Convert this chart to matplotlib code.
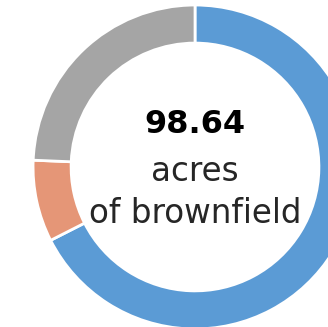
import matplotlib
matplotlib.use("Agg")
import matplotlib.pyplot as plt

# Brownfield acreage split (acres), drawn clockwise from 12 o'clock
segments = ["Category A", "Category B", "Category C"]
acres = [66.60, 8.04, 24.00]
colors = ["#5B9BD5", "#E59677", "#A5A5A5"]

total_label = "98.64"
unit_label = "acres"
desc_label = "of brownfield"

fig = plt.figure(figsize=(3.28, 3.27), dpi=100)
ax = fig.add_axes([0, 0, 1, 1])

ax.pie(acres, colors=colors, startangle=90, counterclock=False,
       radius=1.0,
       wedgeprops=dict(width=0.235, edgecolor="white", linewidth=2))

## Centre labels
ax.text(0, 0.21, total_label, ha="center", va="baseline",
        fontsize=23, fontweight="bold", color="black")
ax.text(0, -0.086, unit_label, ha="center", va="baseline",
        fontsize=23.5, color="#262626")
ax.text(0, -0.346, desc_label, ha="center", va="baseline",
        fontsize=23.5, color="#262626")

## Crop the ring so the right side runs off the canvas
ax.set_xlim(-1.204, 0.821)
ax.set_ylim(-0.988, 1.031)
ax.set_aspect("equal")
ax.axis("off")

fig.savefig("out.png", dpi=100, facecolor="white")
